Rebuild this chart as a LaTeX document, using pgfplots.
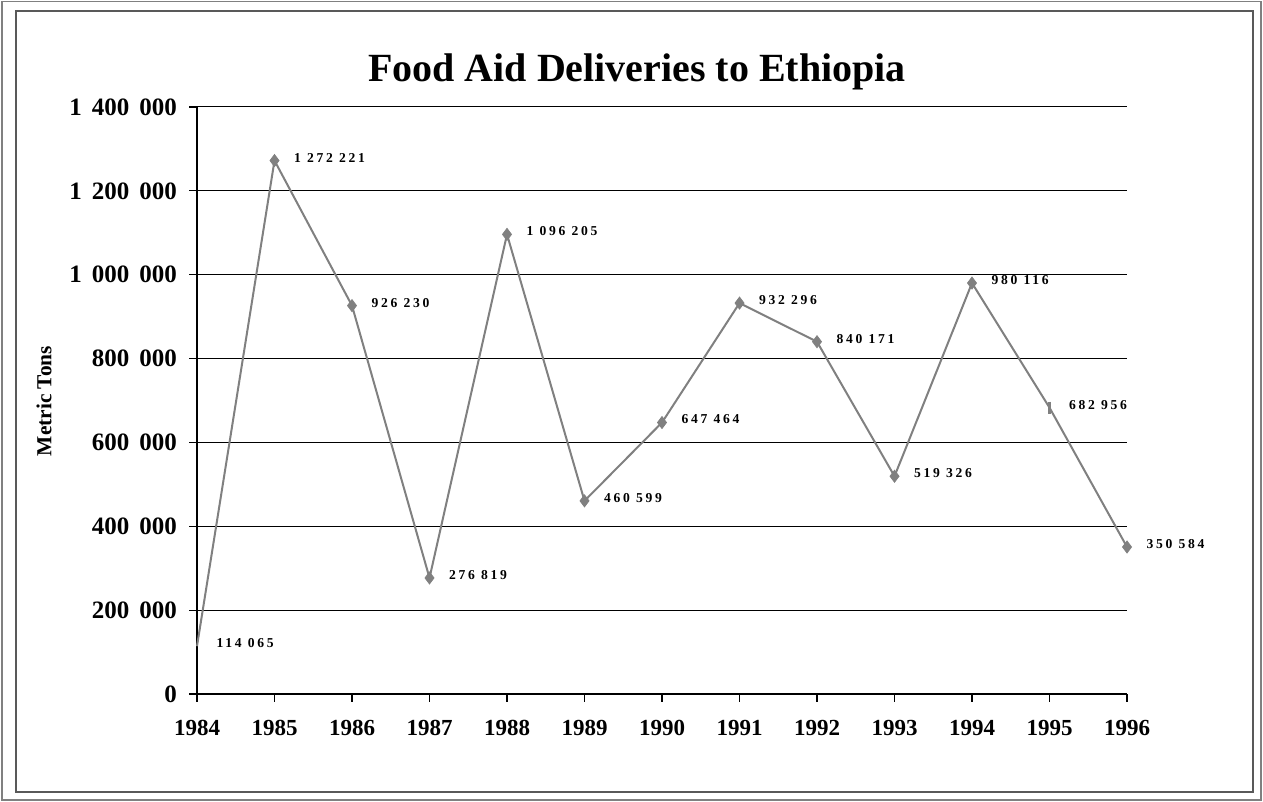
\documentclass[border=0pt]{standalone}
\usepackage{pgfplots}
\pgfplotsset{compat=1.18}
\usepackage{pgfplotstable}
\usepackage{fontspec}
\setmainfont{Liberation Serif}
\newfontfamily\lblfont[LetterSpace=20]{Liberation Serif}
\definecolor{linegray}{RGB}{128,128,128}

\pgfplotstableread[col sep=comma]{
year,tons,label
1984,114065,114 065
1985,1272221,1 272 221
1986,926230,926 230
1987,276819,276 819
1988,1096205,1 096 205
1989,460599,460 599
1990,647464,647 464
1991,932296,932 296
1992,840171,840 171
1993,519326,519 326
1994,980116,980 116
1995,682956,682 956
1996,350584,350 584
}\datatable

\pgfplotstableread[col sep=comma]{
year,tons
1985,1272221
1986,926230
1987,276819
1988,1096205
1989,460599
1990,647464
1991,932296
1992,840171
1993,519326
1994,980116
1996,350584
}\marktable

\pgfplotstableread[col sep=comma]{
year,tons
1995,682956
}\bartable

\newcommand{\ts}{\hspace{0.4em}}
\begin{document}
\begin{tikzpicture}
\useasboundingbox (0pt,0pt) rectangle (631.5pt,401pt);
\draw[gray, line width=0.9pt] (1pt,0.8pt) rectangle (630.5pt,400.2pt);
\draw[black!65, line width=0.6pt] (8pt,5pt) rectangle (626.5pt,395.5pt);
\node[font=\bfseries\fontsize{20}{24}\selectfont] at (318.5pt,365pt) {Food Aid Deliveries to Ethiopia};
\node[rotate=90, font=\bfseries\fontsize{10.7}{13}\selectfont] at (22pt,200.5pt) {Metric Tons};
\begin{axis}[
  at={(98.5pt,54pt)}, anchor=south west,
  scale only axis, width=465pt, height=293.5pt,
  xmin=1984, xmax=1996, ymin=0, ymax=1400000,
  axis x line=bottom, axis y line=left,
  axis line style={-, black, line width=0.6pt},
  xtick={1984,1985,1986,1987,1988,1989,1990,1991,1992,1993,1994,1995,1996},
  xticklabels={1984,1985,1986,1987,1988,1989,1990,1991,1992,1993,1994,1995,1996},
  ytick={0,200000,400000,600000,800000,1000000,1200000,1400000},
  yticklabels={0,200\ts000,400\ts000,600\ts000,800\ts000,1\ts000\ts000,1\ts200\ts000,1\ts400\ts000},
  scaled y ticks=false,
  ymajorgrids, grid style={black, line width=0.5pt},
  tick align=outside, major tick length=4pt,
  tick style={black, line width=0.6pt},
  xticklabel style={font=\bfseries\fontsize{11.5}{13}\selectfont, yshift=-5.5pt},
  yticklabel style={font=\bfseries\fontsize{12.5}{14}\selectfont, xshift=-2.5pt},
  clip=false,
]
\addplot[linegray, line width=1pt, no markers,
  nodes near coords, point meta=explicit symbolic,
  every node near coord/.style={anchor=west, xshift=6pt, yshift=1.5pt, black,
    font=\lblfont\bfseries\fontsize{6.8}{8}\selectfont}]
  table[x=year, y=tons, meta=label] {\datatable};
\addplot[only marks, mark=diamond*, mark size=3pt, linegray, mark options={fill=linegray, draw=linegray}]
  table[x=year, y=tons] {\marktable};
\addplot[only marks, mark=|, mark size=3pt, linegray, mark options={line width=1.2pt}]
  table[x=year, y=tons] {\bartable};
\end{axis}
\end{tikzpicture}
\end{document}
